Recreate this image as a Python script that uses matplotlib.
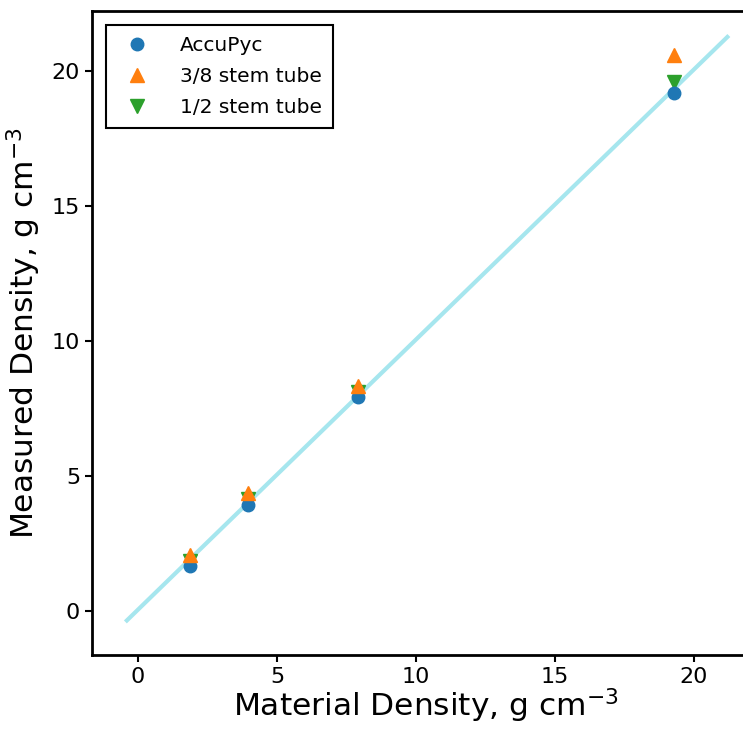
import matplotlib
matplotlib.use("Agg")
import matplotlib.pyplot as plt

plt.rcParams['font.family'] = ['DejaVu Sans']
plt.rcParams['mathtext.fontset'] = 'dejavusans'
plt.rcParams['mathtext.default'] = 'regular'

material = [1.87, 3.96, 7.91, 19.28]
accupyc = [1.67, 3.93, 7.93, 19.19]
stem38 = [2.07, 4.37, 8.33, 20.6]
stem12 = [1.85, 4.15, 8.11, 19.6]
fit_x = [-0.4, 21.2]
fit_y = [-0.35, 21.26]

fig = plt.figure(figsize=(7.43, 7.30), dpi=100)
W, H = 743, 730
left, right, top, bottom = 92, 760, 11, 655
ax = fig.add_axes([left / W, 1 - bottom / H, (right - left) / W, (bottom - top) / H])

ax.plot(fit_x, fit_y, color='#a6e6ee', lw=3, zorder=1)
ax.plot(material, accupyc, 'o', color='#1f77b4', ms=9, label='AccuPyc', zorder=3)
ax.plot(material, stem38, '^', color='#ff7f0e', ms=10, label='3/8 stem tube', zorder=4)
ax.plot(material, stem12, 'v', color='#2ca02c', ms=10, label='1/2 stem tube', zorder=2)

x0px = 138.0; xs = 27.8
y0px = 611.0; ys = 27.0
ax.set_xlim((left - x0px) / xs, (right - x0px) / xs)
ax.set_ylim((y0px - bottom) / ys, (y0px - top) / ys)
ax.set_xticks([0, 5, 10, 15, 20])
ax.set_yticks([0, 5, 10, 15, 20])

for s in ax.spines.values():
    s.set_linewidth(2)
ax.tick_params(labelsize=16, width=1.5, length=5)
ax.set_xlabel('Material Density, g cm$^{-3}$', fontsize=22.5, labelpad=0)
ax.set_ylabel('Measured Density, g cm$^{-3}$', fontsize=22.5, labelpad=6)

leg = ax.legend(loc='upper left', fontsize=14.5, fancybox=False, framealpha=1,
                edgecolor='black', borderaxespad=0.7, handletextpad=1.1,
                borderpad=0.55, labelspacing=0.6)
leg.get_frame().set_linewidth(1.5)

fig.savefig('out.png', dpi=100)
